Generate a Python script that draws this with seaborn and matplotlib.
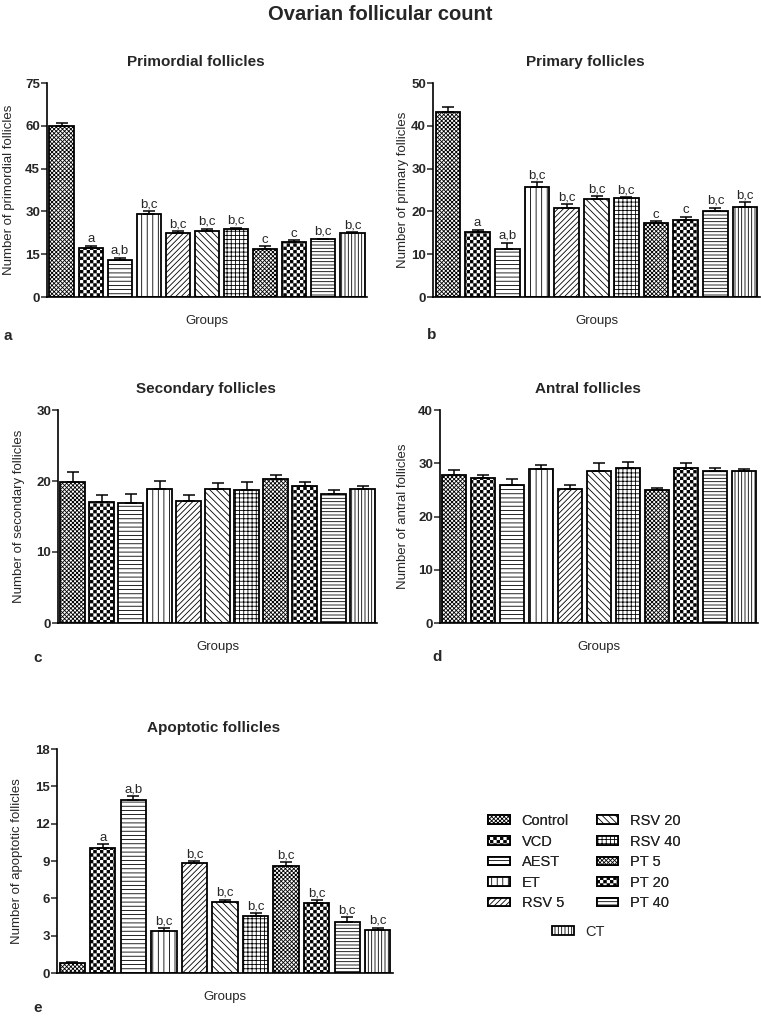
import matplotlib
matplotlib.use('Agg')
import matplotlib.hatch as mhatch
import matplotlib.pyplot as plt
import numpy as np
import seaborn as sns
from matplotlib.path import Path

groups = ['Control', 'VCD', 'AEST', 'ET', 'RSV 5', 'RSV 20', 'RSV 40', 'PT 5', 'PT 20', 'PT 40', 'CT']

primordial_mean = [60.0, 17.3, 13.1, 29.2, 22.4, 23.0, 24.0, 16.9, 19.3, 20.2, 22.4]
primordial_sem = [1.0, 0.6, 0.7, 0.9, 0.6, 1.0, 0.3, 0.9, 0.6, 0.3, 0.3]
primordial_sig = ['', 'a', 'a,b', 'b,c', 'b,c', 'b,c', 'b,c', 'c', 'c', 'b,c', 'b,c']

primary_mean = [43.3, 15.1, 11.2, 25.6, 20.9, 22.8, 23.1, 17.3, 18.1, 20.2, 21.1]
primary_sem = [1.1, 0.6, 1.5, 1.2, 0.8, 0.7, 0.3, 0.4, 0.65, 0.7, 1.0]
primary_sig = ['', 'a', 'a,b', 'b,c', 'b,c', 'b,c', 'b,c', 'c', 'c', 'b,c', 'b,c']

secondary_mean = [19.9, 17.1, 16.9, 18.9, 17.2, 18.9, 18.8, 20.3, 19.3, 18.2, 18.9]
secondary_sem = [1.4, 0.9, 1.2, 1.1, 0.8, 0.75, 1.0, 0.6, 0.6, 0.5, 0.4]

antral_mean = [27.8, 27.2, 25.9, 28.9, 25.25, 28.6, 29.2, 25.0, 29.2, 28.6, 28.6]
antral_sem = [1.0, 0.6, 1.2, 0.7, 0.65, 1.5, 1.1, 0.3, 0.8, 0.5, 0.3]

apoptotic_mean = [0.8, 10.05, 13.9, 3.38, 8.8, 5.7, 4.55, 8.57, 5.6, 4.1, 3.48]
apoptotic_sem = [0.05, 0.3, 0.3, 0.25, 0.2, 0.2, 0.27, 0.33, 0.25, 0.4, 0.17]
apoptotic_sig = ['', 'a', 'a,b', 'b,c', 'b,c', 'b,c', 'b,c', 'b,c', 'b,c', 'b,c', 'b,c']

# '*' is used as a checkerboard fill (GraphPad style) instead of stars
bar_hatches = ['xxxxxxxx', '*****', '----', '|||', '//////', '\\\\\\\\\\', '++++',
               'xxxxxxxx', '*****', '-----', '|||||']


class Checker(mhatch.HatchPatternBase):
    def __init__(self, hatch, density):
        n = hatch.count('*') * density
        self.n = n + n % 2
        self.num_vertices = (self.n * self.n // 2) * 5

    def set_vertices_and_codes(self, vertices, codes):
        s = 1.0 / self.n
        d = 0.004  # shrink a bit, the hatch stroke grows the squares again
        k = 0
        for i in range(self.n):
            for j in range(i % 2, self.n, 2):
                x0, x1 = i * s + d, (i + 1) * s - d
                y0, y1 = j * s + d, (j + 1) * s - d
                vertices[k:k + 5] = [(x0, y0), (x1, y0), (x1, y1), (x0, y1), (x0, y0)]
                codes[k:k + 5] = [Path.MOVETO, Path.LINETO, Path.LINETO, Path.LINETO, Path.CLOSEPOLY]
                k += 5


mhatch._hatch_types = [t for t in mhatch._hatch_types if t is not mhatch.Stars] + [Checker]

sns.set_style('ticks')
plt.rcParams['font.family'] = ['Liberation Sans', 'DejaVu Sans']
plt.rcParams['hatch.linewidth'] = 0.6


def draw_panel(ax, means, sems, title, ylabel, yticks, sig=None, label_x=-0.1):
    sns.barplot(x=groups, y=means, ax=ax, color='white', saturation=1, edgecolor='black',
                linewidth=1.3, width=0.83, errorbar=None)
    for patch, hatch in zip(ax.patches, bar_hatches):
        patch.set_hatch(hatch)
    pos = np.arange(len(groups))
    ax.errorbar(pos, means, yerr=[np.zeros(len(sems)), sems], fmt='none', ecolor='black',
                elinewidth=1.1, capsize=4.5, capthick=1.1)
    if sig:
        for i, (m, e, s) in enumerate(zip(means, sems, sig)):
            ax.annotate(s, (i, m + e), xytext=(0, 0.5), textcoords='offset points',
                        ha='center', va='bottom', fontsize=9.5)
    ax.set_xlim(-0.5, len(groups) - 0.5)
    ax.set_ylim(yticks[0], yticks[-1])
    ax.set_yticks(yticks)
    ax.set_xticks([])
    ax.set_title(title, fontsize=11, fontweight='bold', x=0.465, pad=12)
    ax.set_ylabel(ylabel, fontsize=9.5)
    ax.yaxis.set_label_coords(label_x, 0.5)
    ax.set_xlabel('Groups', fontsize=9.5, labelpad=13)
    ax.tick_params(axis='y', length=4, width=1.1, labelsize=9.5, pad=1)
    for t in ax.get_yticklabels():
        t.set_fontweight('bold')
    sns.despine(ax=ax)
    for side in ['left', 'bottom']:
        ax.spines[side].set_linewidth(1.2)
        ax.spines[side].set_color('black')


fig = plt.figure(figsize=(7.61, 10.17), dpi=100)
W, H = 761, 1017


def add_axes(left, right, top, bottom):
    return fig.add_axes([left / W, 1 - bottom / H, (right - left) / W, (bottom - top) / H])


ax_a = add_axes(47, 367, 83, 297)
ax_b = add_axes(433, 760, 83, 297)
ax_c = add_axes(58, 377, 410, 623)
ax_d = add_axes(440, 758, 410, 623)
ax_e = add_axes(57, 393, 749, 973)

draw_panel(ax_a, primordial_mean, primordial_sem, 'Primordial follicles',
           'Number of primordial follicles', [0, 15, 30, 45, 60, 75], primordial_sig, -0.10)
draw_panel(ax_b, primary_mean, primary_sem, 'Primary follicles',
           'Number of primary follicles', [0, 10, 20, 30, 40, 50], primary_sig, -0.072)
draw_panel(ax_c, secondary_mean, secondary_sem, 'Secondary follicles',
           'Number of secondary follicles', [0, 10, 20, 30], None, -0.105)
draw_panel(ax_d, antral_mean, antral_sem, 'Antral follicles',
           'Number of antral follicles', [0, 10, 20, 30, 40], None, -0.096)
draw_panel(ax_e, apoptotic_mean, apoptotic_sem, 'Apoptotic follicles',
           'Number of apoptotic follicles', [0, 3, 6, 9, 12, 15, 18], apoptotic_sig, -0.10)

fig.text(380 / W, 1 - 15 / H, 'Ovarian follicular count', ha='center', va='center',
         fontsize=14.5, fontweight='bold')
for letter, x, y in [('a', 8, 336), ('b', 432, 335), ('c', 38, 658), ('d', 437, 657), ('e', 38, 1008)]:
    fig.text(x / W, 1 - y / H, letter, ha='center', va='center', fontsize=11, fontweight='bold')

handles = ax_e.patches[:len(groups)]
leg = fig.legend(handles[:10], groups[:10], ncol=2, loc='upper left', bbox_to_anchor=(488 / W, 1 - 814 / H),
                 frameon=False, fontsize=10.5, borderpad=0, borderaxespad=0, handlelength=1.5,
                 handleheight=0.55, handletextpad=0.8, labelspacing=0.45, columnspacing=1.9)
fig.legend(handles[10:], groups[10:], loc='upper left', bbox_to_anchor=(552 / W, 1 - 925 / H),
           frameon=False, fontsize=10.5, borderpad=0, borderaxespad=0, handlelength=1.5,
           handleheight=0.55, handletextpad=0.8)
fig.add_artist(leg)

fig.savefig('out.png', dpi=100)
